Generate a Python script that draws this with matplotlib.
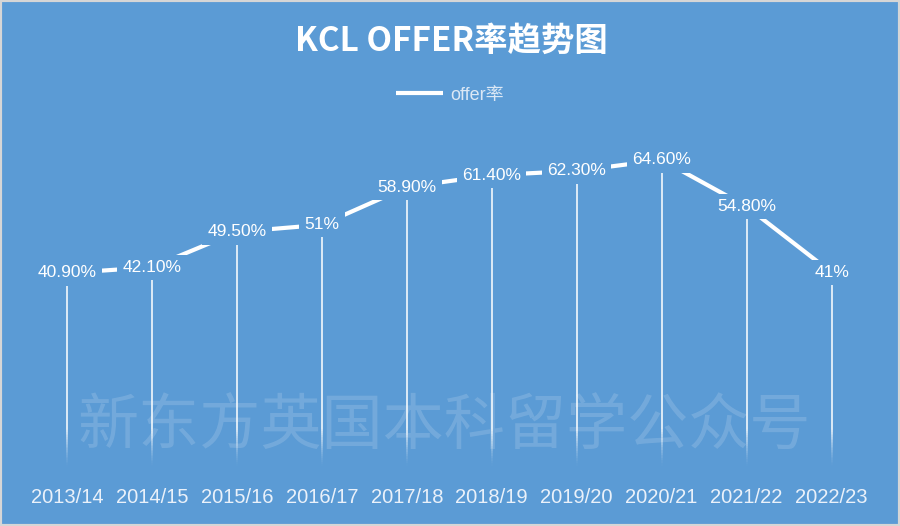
import numpy as np
import matplotlib
matplotlib.use("Agg")
from matplotlib import pyplot as plt
from matplotlib.collections import LineCollection
from matplotlib.patches import Rectangle

years = ["2013/14", "2014/15", "2015/16", "2016/17", "2017/18",
         "2018/19", "2019/20", "2020/21", "2021/22", "2022/23"]
offer_rate = [40.9, 42.1, 49.5, 51.0, 58.9, 61.4, 62.3, 64.6, 54.8, 41.0]
rate_labels = ["40.90%", "42.10%", "49.50%", "51%", "58.90%",
               "61.40%", "62.30%", "64.60%", "54.80%", "41%"]

bg = "#5B9BD5"
plt.rcParams['font.family'] = ['Liberation Sans', 'Noto Sans CJK SC']

fig = plt.figure(figsize=(9, 5.26), dpi=100, facecolor=bg)
ax = fig.add_axes([0.0272, 0.110, 0.944, 0.635])
ax.set_facecolor(bg)
x = np.arange(len(years))

# drop lines fading out at the bottom
for xi, v in zip(x, offer_rate):
    ys = np.linspace(0, v, 120)
    segs = [[(xi, ys[i]), (xi, ys[i + 1])] for i in range(len(ys) - 1)]
    alphas = np.clip(ys[:-1] / 8.0, 0, 1) ** 1.5 * 0.85
    cols = [(1, 1, 1, a) for a in alphas]
    ax.add_collection(LineCollection(segs, colors=cols, linewidths=1.3, zorder=2))

ax.plot(x, offer_rate, color="white", lw=3, solid_capstyle="butt",
        label="offer率", zorder=3)

for xi, v, lab in zip(x, offer_rate, rate_labels):
    ax.text(xi, v, lab, ha="center", va="center", color="white", fontsize=12.5,
            zorder=4,
            bbox=dict(boxstyle="square,pad=0.3", facecolor=bg, edgecolor="none"))

ax.set_xlim(-0.5, len(years) - 0.5)
ax.set_ylim(0, 70)
ax.set_xticks(x)
ax.set_xticklabels(years, fontsize=14.5, color="#EAF1FA")
ax.tick_params(axis="x", length=0, pad=14)
ax.set_yticks([])
for s in ax.spines.values():
    s.set_visible(False)

fig.text(0.501, 0.921, "KCL OFFER率趋势图", ha="center", va="center",
         color="white", fontsize=24, fontweight="bold",
         family=["Noto Sans CJK SC", "DejaVu Sans"])

leg = ax.legend(loc="center", bbox_to_anchor=(0.5, 0.819),
                bbox_transform=fig.transFigure, frameon=False,
                handlelength=2.6, handletextpad=0.4, fontsize=13)
for t in leg.get_texts():
    t.set_color("#DCE8F5")

fig.text(0.494, 1 - 428 / 526, "新东方英国本科留学公众号", ha="center", va="center",
         color="white", alpha=0.15, fontsize=44,
         family=["Noto Sans CJK SC", "DejaVu Sans"])

fig.patches.append(Rectangle((0, 0), 1, 1, transform=fig.transFigure,
                             fill=False, edgecolor="#D6D6D6", lw=3))

fig.savefig("out.png", dpi=100, facecolor=bg)
